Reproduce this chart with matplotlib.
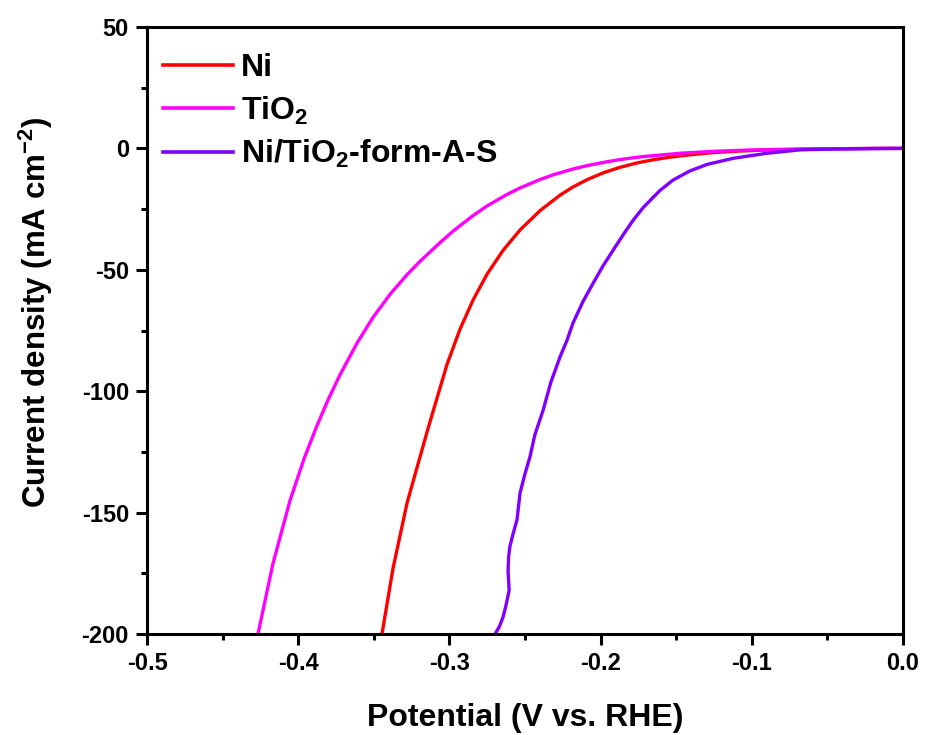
import matplotlib
matplotlib.use("Agg")
import matplotlib.pyplot as plt
from matplotlib.ticker import MultipleLocator

plt.rcParams['font.family'] = ['Liberation Sans', 'DejaVu Sans']
plt.rcParams['font.weight'] = 'bold'
plt.rcParams['mathtext.default'] = 'bf'
plt.rcParams['mathtext.fontset'] = 'custom'
plt.rcParams['mathtext.bf'] = 'Liberation Sans:bold'
plt.rcParams['mathtext.rm'] = 'Liberation Sans:bold'

# ---- data ----
ni_v = [-0.3446, -0.3373, -0.3280, -0.3142, -0.3016, -0.2930, -0.2844, -0.2751,
        -0.2645, -0.2533, -0.2400, -0.2269, -0.2180, -0.2090, -0.1980, -0.1872,
        -0.1760, -0.1653, -0.1540, -0.1420, -0.1257, -0.1100, -0.0926, -0.0700,
        -0.0500, -0.0250, 0.0]
ni_j = [-200, -173, -146, -115.5, -89.0, -74.5, -62.5, -51.8,
        -42.0, -33.6, -25.6, -19.3, -15.8, -12.9, -10.0, -7.8,
        -6.0, -4.7, -3.6, -2.7, -1.75, -1.15, -0.7, -0.35,
        -0.15, -0.05, 0.0]

tio2_v = [-0.4266, -0.4167, -0.4054, -0.3960, -0.3876, -0.3800, -0.3724, -0.3610,
          -0.3505, -0.3390, -0.3280, -0.3194, -0.3062, -0.2976, -0.2844, -0.2751,
          -0.2620, -0.2533, -0.2400, -0.2315, -0.2183, -0.2090, -0.1958, -0.1872,
          -0.1740, -0.1475, -0.1250, -0.1030, -0.0750, -0.0500, -0.0250, 0.0]
tio2_j = [-200, -171, -145, -127.6, -114.2, -103.2, -93.3, -80.1,
          -69.6, -59.9, -52.0, -46.5, -38.8, -34.1, -27.7, -23.7,
          -19.0, -16.3, -12.8, -10.9, -8.5, -7.1, -5.5, -4.6,
          -3.5, -2.0, -1.2, -0.7, -0.35, -0.15, -0.05, 0.0]

nts_v = [-0.2698, -0.2670, -0.2645, -0.2625, -0.2605, -0.2612, -0.2608, -0.2600,
         -0.2580, -0.2553, -0.2533, -0.2500, -0.2467, -0.2435, -0.2381, -0.2330,
         -0.2269, -0.2222, -0.2183, -0.2116, -0.2050, -0.1985, -0.1918, -0.1850,
         -0.1786, -0.1720, -0.1653, -0.1607, -0.1520, -0.1410, -0.1296, -0.1124,
         -0.0900, -0.0680, -0.0450, -0.0200, 0.0]
nts_j = [-200, -197, -193, -188, -182, -174, -168, -164,
         -159, -153, -142, -134, -127, -118, -108, -96.5,
         -86.0, -79.0, -72.0, -63.0, -55.6, -48.5, -42.0, -35.5,
         -29.7, -24.5, -20.2, -17.3, -13.0, -9.3, -6.6, -4.1,
         -2.0, -0.6, -0.25, -0.05, 0.0]

labels = ['Ni', 'TiO$_2$', 'Ni/TiO$_2$-form-A-S']
colors = ['#FF0000', '#FF00FF', '#7F00FF']

xticks = [-0.5, -0.4, -0.3, -0.2, -0.1, 0.0]
xticklabels = ['-0.5', '-0.4', '-0.3', '-0.2', '-0.1', '0.0']
yticks = [-200, -150, -100, -50, 0, 50]
yticklabels = ['-200', '-150', '-100', '-50', '0', '50']

fig = plt.figure(figsize=(9.25, 7.35), dpi=100)
ax = fig.add_axes([147/925, 101/735, 756/925, 607/735])

for v, j, lab, c in zip([ni_v, tio2_v, nts_v], [ni_j, tio2_j, nts_j], labels, colors):
    ax.plot(v, j, color=c, lw=2.4, label=lab, solid_joinstyle='round')

ax.set_xlim(-0.5, 0.0)
ax.set_ylim(-200, 50)
ax.set_xticks(xticks)
ax.set_xticklabels(xticklabels)
ax.set_yticks(yticks)
ax.set_yticklabels(yticklabels)
ax.xaxis.set_minor_locator(MultipleLocator(0.05))
ax.yaxis.set_minor_locator(MultipleLocator(25))
ax.tick_params(which='major', direction='out', length=8, width=2.2, labelsize=17, pad=5)
ax.tick_params(which='minor', direction='out', length=4.5, width=2.2)
ax.tick_params(top=False, right=False, which='both')
for s in ax.spines.values():
    s.set_linewidth(2.2)
for lab in ax.get_xticklabels() + ax.get_yticklabels():
    lab.set_fontweight('bold')

ax.set_xlabel('Potential (V vs. RHE)', fontsize=23, fontweight='bold', labelpad=20)
ax.set_ylabel('Current density (mA cm$^{-2}$)', fontsize=22.5, fontweight='bold')
ax.yaxis.set_label_coords(-0.122, 0.53)

leg = ax.legend(loc='upper left', frameon=False, fontsize=23, handlelength=2.2,
                handletextpad=0.25, labelspacing=0.36, borderaxespad=0.0, borderpad=0.0,
                bbox_to_anchor=(0.021, 0.957))
for t in leg.get_texts():
    t.set_fontweight('bold')
for l in leg.get_lines():
    l.set_linewidth(2.6)

fig.savefig('out.png', dpi=100)
